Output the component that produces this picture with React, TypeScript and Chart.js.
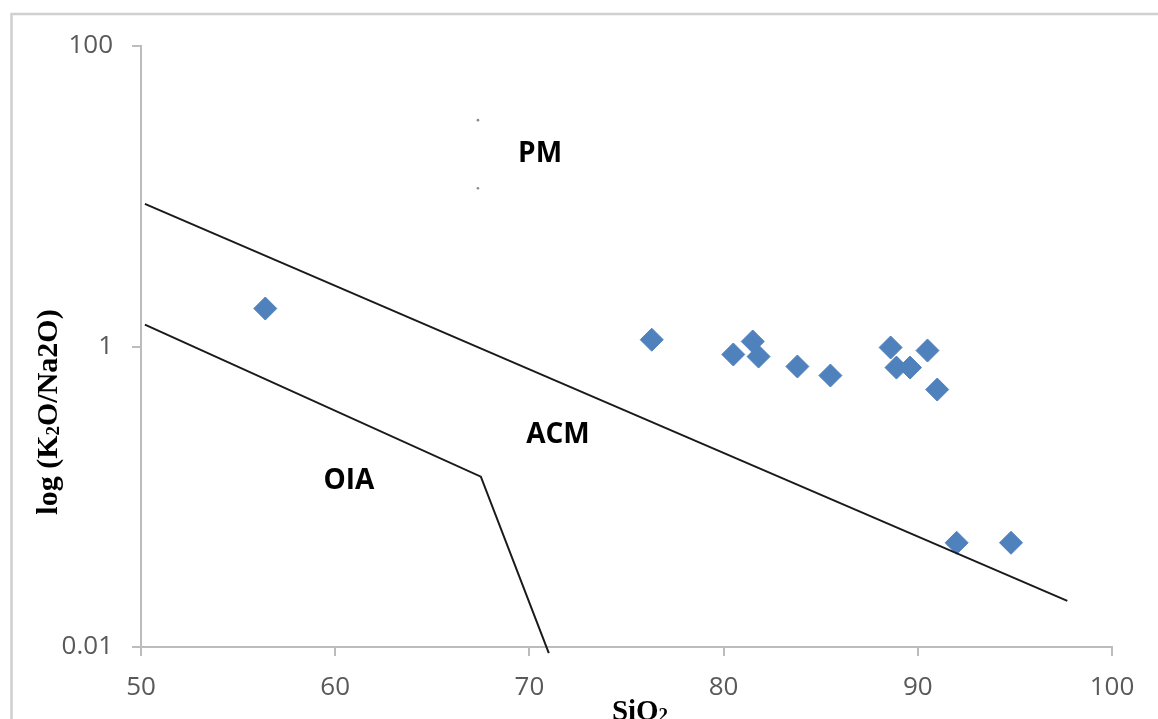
import React, { useEffect, useRef } from 'react';
import { Chart, registerables } from 'chart.js';

Chart.register(...registerables);

// ---- data ----
const sampleSiO2 = [56.4, 76.3, 80.5, 81.5, 81.8, 83.8, 85.5, 88.6, 88.9, 89.6, 90.5, 91.0, 92.0, 94.8];
const sampleRatio = [1.79, 1.11, 0.885, 1.08, 0.857, 0.736, 0.641, 0.985, 0.724, 0.724, 0.94, 0.517, 0.0494, 0.0494];

const pmAcmLineX = [50.2, 97.7];
const pmAcmLineY = [8.9, 0.0203];

const oiaLineX = [50.2, 67.5, 71.0];
const oiaLineY = [1.4, 0.136, 0.0091];

const strayDotX = [67.35, 67.35, 72.76];
const strayDotY = [32.1, 11.3, 0.0054];

const regionNames = ['PM', 'ACM', 'OIA'];
const regionX = [70.55, 71.47, 60.71];
const regionY = [19.2, 0.258, 0.128];

const xTicks = [50, 60, 70, 80, 90, 100];
const yTicks = [0.01, 1, 100];

const toPoints = (xs: number[], ys: number[]) => xs.map((x, i) => ({ x, y: ys[i] }));

type Run = { text: string; size: number; dy: number };

function drawRuns(ctx: CanvasRenderingContext2D, runs: Run[], cx: number, baseline: number, family: string) {
  let total = 0;
  const widths = runs.map((r) => {
    ctx.font = `bold ${r.size}px ${family}`;
    const w = ctx.measureText(r.text).width;
    total += w;
    return w;
  });
  let x = cx - total / 2;
  ctx.textAlign = 'left';
  ctx.textBaseline = 'alphabetic';
  runs.forEach((r, i) => {
    ctx.font = `bold ${r.size}px ${family}`;
    ctx.fillText(r.text, x, baseline + r.dy);
    x += widths[i];
  });
}

const decorPlugin = {
  id: 'decor',
  beforeDraw(chart: any) {
    const ctx = chart.ctx as CanvasRenderingContext2D;
    ctx.save();
    ctx.strokeStyle = '#d0d0d0';
    ctx.lineWidth = 2.5;
    ctx.beginPath();
    ctx.moveTo(11.5, 719);
    ctx.lineTo(11.5, 14);
    ctx.lineTo(1158, 14);
    ctx.stroke();
    ctx.restore();
  },
  afterDraw(chart: any) {
    const ctx = chart.ctx as CanvasRenderingContext2D;
    const xs = chart.scales.x;
    const ys = chart.scales.y;
    ctx.save();
    // region labels
    ctx.fillStyle = '#000000';
    ctx.font = 'bold 28px "Open Sans"';
    ctx.textAlign = 'center';
    ctx.textBaseline = 'middle';
    regionNames.forEach((name, i) => {
      ctx.fillText(name, xs.getPixelForValue(regionX[i]), ys.getPixelForValue(regionY[i]));
    });
    // axis titles
    const serif = '"Liberation Serif", "DejaVu Serif", serif';
    ctx.fillStyle = '#000000';
    drawRuns(
      ctx,
      [
        { text: 'SiO', size: 29, dy: 0 },
        { text: '2', size: 19, dy: 1 },
      ],
      640,
      720,
      serif
    );
    ctx.translate(57, 412);
    ctx.rotate(-Math.PI / 2);
    drawRuns(
      ctx,
      [
        { text: 'log (K', size: 30, dy: 0 },
        { text: '2', size: 19, dy: 2 },
        { text: 'O/Na2O)', size: 30, dy: 0 },
      ],
      0,
      0,
      serif
    );
    ctx.restore();
  },
};

export default function App() {
  const canvasRef = useRef<HTMLCanvasElement | null>(null);

  useEffect(() => {
    if (!canvasRef.current) return;
    const axisGray = '#bcbcbc';
    const tickFont = { family: '"Open Sans"', size: 26 };
    const chart = new Chart(canvasRef.current, {
      type: 'scatter',
      data: {
        datasets: [
          {
            label: 'PM/ACM boundary',
            type: 'line',
            data: toPoints(pmAcmLineX, pmAcmLineY),
            borderColor: '#1a1a1a',
            borderWidth: 2,
            pointRadius: 0,
            fill: false,
            tension: 0,
          } as any,
          {
            label: 'ACM/OIA boundary',
            type: 'line',
            data: toPoints(oiaLineX, oiaLineY),
            borderColor: '#1a1a1a',
            borderWidth: 2,
            pointRadius: 0,
            fill: false,
            tension: 0,
            clip: false,
          } as any,
          {
            label: 'dots',
            data: toPoints(strayDotX, strayDotY),
            pointRadius: 1.3,
            pointBackgroundColor: '#8a8a8a',
            pointBorderWidth: 0,
            clip: false,
          } as any,
          {
            label: 'Samples',
            data: toPoints(sampleSiO2, sampleRatio),
            pointStyle: 'rectRot',
            pointRadius: 11.5,
            pointBackgroundColor: '#4f81bd',
            pointBorderColor: '#4f81bd',
            pointBorderWidth: 1,
          } as any,
        ],
      },
      options: {
        animation: false,
        responsive: false,
        layout: { padding: { top: 46, right: 46, left: 0, bottom: 0 } },
        plugins: {
          legend: { display: false },
          tooltip: { enabled: false },
        },
        scales: {
          x: {
            type: 'linear',
            min: 50,
            max: 100,
            afterBuildTicks: (axis: any) => {
              axis.ticks = xTicks.map((v) => ({ value: v }));
            },
            afterFit: (scale: any) => {
              scale.height = 72;
              scale.paddingLeft = 0;
              scale.paddingRight = 0;
            },
            grid: {
              drawOnChartArea: false,
              drawTicks: true,
              tickLength: 9,
              color: axisGray,
              lineWidth: 2,
            },
            border: { display: true, color: axisGray, width: 2 },
            ticks: {
              color: '#595959',
              font: tickFont,
              padding: 16,
              maxRotation: 0,
              autoSkip: false,
              callback: (v: any) => String(v),
            },
          },
          y: {
            type: 'logarithmic',
            min: 0.01,
            max: 100,
            afterBuildTicks: (axis: any) => {
              axis.ticks = yTicks.map((v) => ({ value: v }));
            },
            afterFit: (scale: any) => {
              scale.width = 141;
              scale.paddingTop = 0;
              scale.paddingBottom = 0;
            },
            grid: {
              drawOnChartArea: false,
              drawTicks: true,
              tickLength: 9,
              color: axisGray,
              lineWidth: 2,
            },
            border: { display: true, color: axisGray, width: 2 },
            ticks: {
              color: '#595959',
              font: tickFont,
              padding: 19,
              autoSkip: false,
              callback: (v: any) => String(v),
            },
          },
        },
      },
      plugins: [decorPlugin],
    } as any);
    return () => chart.destroy();
  }, []);

  return (
    <div style={{ position: 'absolute', left: 0, top: 0, width: 1158, height: 719, background: '#ffffff', overflow: 'hidden' }}>
      <canvas ref={canvasRef} width={1158} height={719} style={{ display: 'block' }} />
    </div>
  );
}
